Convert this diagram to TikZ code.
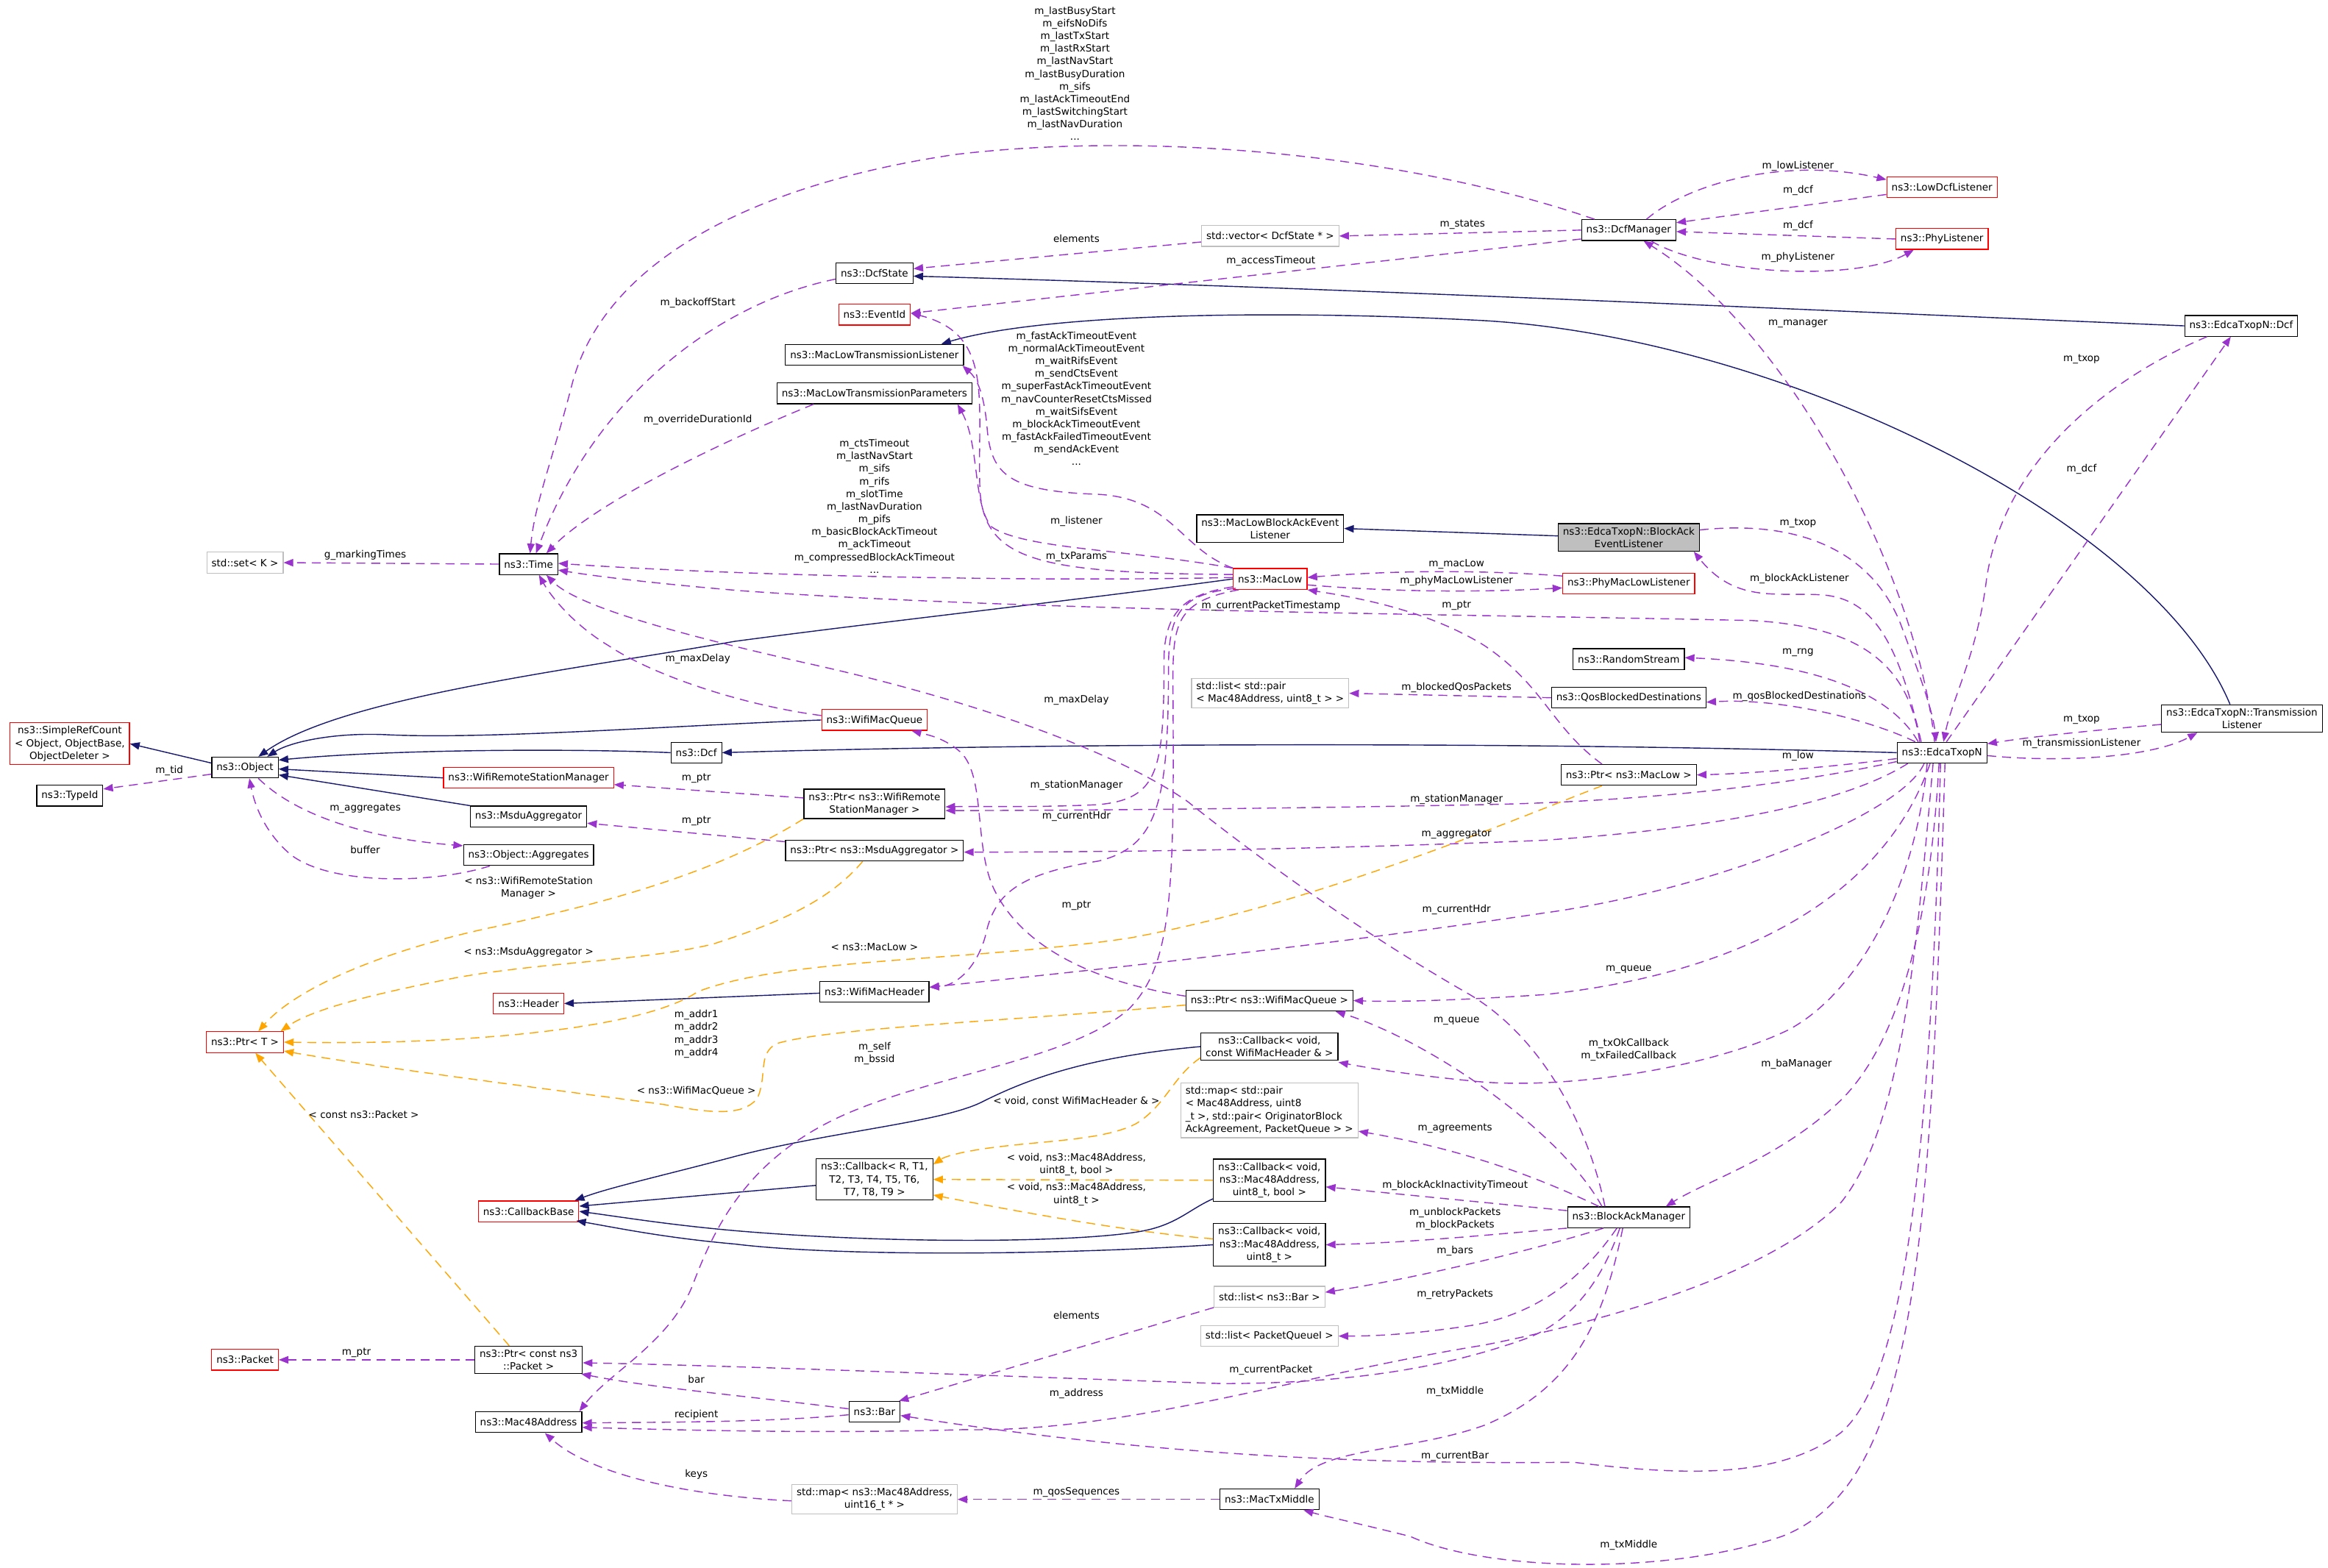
\documentclass[tikz,border=0pt]{standalone}
\usepackage{fontspec}
\setmainfont{DejaVu Sans}
\usetikzlibrary{arrows.meta}
\definecolor{inhblue}{HTML}{191970}
\definecolor{usepurple}{HTML}{9A32CD}
\definecolor{tplorange}{HTML}{FFA500}
\definecolor{boxred}{HTML}{FF0000}
\definecolor{boxgray}{HTML}{BFBFBF}
\newcommand{\dfont}{\fontsize{6.7}{8.5}\selectfont}
\tikzset{
  classbox/.style={draw=black,fill=white,line width=0.6pt,inner xsep=3.2pt,
                   inner ysep=2.4pt,minimum height=14pt,align=center,font=\dfont},
  redbox/.style={classbox,draw=boxred},
  graybox/.style={classbox,draw=boxgray},
  rootbox/.style={classbox,fill=boxgray},
  elabel/.style={inner sep=0pt,align=center,font=\dfont},
  inherit/.style={draw=inhblue,line width=0.7pt,
                  -{Triangle[length=6.5pt,width=5pt]}},
  usage/.style={draw=usepurple,line width=0.7pt,dash pattern=on 6pt off 4pt,
                -{Triangle[length=6.5pt,width=5pt]}},
  templ/.style={draw=tplorange,line width=0.7pt,dash pattern=on 6pt off 4pt,
                -{Triangle[length=6.5pt,width=5pt]}}
}

\begin{document}
\begin{tikzpicture}[x=1pt,y=-1pt]
  \path[fill=white,use as bounding box] (0,0) rectangle (1568,1056);

  % classes
  \node[classbox] (dcfmgr) at (1097,155) {ns3::DcfManager};
  \node[redbox] (lowlis) at (1308,126) {ns3::LowDcfListener};
  \node[redbox] (phylis) at (1308,161) {ns3::PhyListener};
  \node[graybox] (vecstate) at (855.5,159) {std::vector< DcfState * >};
  \node[classbox] (dcfstate) at (589,184) {ns3::DcfState};
  \node[redbox] (eventid) at (589,212) {ns3::EventId};
  \node[classbox] (txlis) at (589,239) {ns3::MacLowTransmissionListener};
  \node[classbox] (txpar) at (589,265) {ns3::MacLowTransmissionParameters};
  \node[classbox] (baevlis) at (855.5,356) {ns3::MacLowBlockAckEvent\\Listener};
  \node[rootbox] (edbalis) at (1097,362) {ns3::EdcaTxopN::BlockAck\\EventListener};
  \node[redbox] (maclow) at (855.5,390) {ns3::MacLow};
  \node[redbox] (phymac) at (1097,393) {ns3::PhyMacLowListener};
  \node[classbox] (time) at (356,380) {ns3::Time};
  \node[graybox] (setk) at (165,379) {std::set< K >};
  \node[classbox] (rng) at (1097,444) {ns3::RandomStream};
  \node[graybox,align=left] (blkpair) at (855.5,467) {std::list< std::pair\\< Mac48Address, uint8\_t > >};
  \node[classbox] (qosblk) at (1097,470) {ns3::QosBlockedDestinations};
  \node[classbox] (edcadcf) at (1509.5,219.5) {ns3::EdcaTxopN::Dcf};
  \node[classbox] (edtxlis) at (1510,484) {ns3::EdcaTxopN::Transmission\\Listener};
  \node[classbox] (edca) at (1308,507) {ns3::EdcaTxopN};
  \node[classbox] (ptrlow) at (1097,522) {ns3::Ptr< ns3::MacLow >};
  \node[redbox] (refcnt) at (47,501) {ns3::SimpleRefCount\\< Object, ObjectBase,\\ObjectDeleter >};
  \node[classbox] (object) at (165,517) {ns3::Object};
  \node[classbox] (typeid) at (47,536) {ns3::TypeId};
  \node[redbox] (wmq) at (589,485) {ns3::WifiMacQueue};
  \node[classbox] (dcf) at (469,507) {ns3::Dcf};
  \node[redbox] (wrsm) at (356,524) {ns3::WifiRemoteStationManager};
  \node[classbox] (ptrwrsm) at (589,541.5) {ns3::Ptr< ns3::WifiRemote\\StationManager >};
  \node[classbox] (msdu) at (356,550) {ns3::MsduAggregator};
  \node[classbox] (aggr) at (356,576) {ns3::Object::Aggregates};
  \node[classbox] (ptrmsdu) at (589,573) {ns3::Ptr< ns3::MsduAggregator >};
  \node[redbox] (header) at (356,676) {ns3::Header};
  \node[classbox] (wmh) at (589,668) {ns3::WifiMacHeader};
  \node[redbox] (ptrt) at (165,702) {ns3::Ptr< T >};
  \node[classbox] (ptrwmq) at (855,674) {ns3::Ptr< ns3::WifiMacQueue >};
  \node[classbox] (cbhdr) at (855,705) {ns3::Callback< void,\\const WifiMacHeader \& >};
  \node[graybox,align=left] (agrmap) at (855,748) {std::map< std::pair\\< Mac48Address, uint8\\\_t >, std::pair< OriginatorBlock\\AckAgreement, PacketQueue > >};
  \node[classbox] (cbgen) at (589,794.5) {ns3::Callback< R, T1,\\T2, T3, T4, T5, T6,\\T7, T8, T9 >};
  \node[classbox] (cbbool) at (855,795) {ns3::Callback< void,\\ns3::Mac48Address,\\uint8\_t, bool >};
  \node[redbox] (cbbase) at (356,816) {ns3::CallbackBase};
  \node[classbox] (cbtid) at (855,838.5) {ns3::Callback< void,\\ns3::Mac48Address,\\uint8\_t >};
  \node[classbox] (bam) at (1097,820) {ns3::BlockAckManager};
  \node[graybox] (barlist) at (855,873.5) {std::list< ns3::Bar >};
  \node[graybox] (pqlist) at (855,900) {std::list< PacketQueueI >};
  \node[redbox] (packet) at (165,916) {ns3::Packet};
  \node[classbox] (ptrpkt) at (356,916) {ns3::Ptr< const ns3\\::Packet >};
  \node[classbox] (bar) at (589,951) {ns3::Bar};
  \node[classbox] (mac48) at (356,958) {ns3::Mac48Address};
  \node[graybox] (seqmap) at (589,1010) {std::map< ns3::Mac48Address,\\uint16\_t * >};
  \node[classbox] (txmid) at (855,1010) {ns3::MacTxMiddle};

  % inheritance
  \draw[inherit] ([yshift=3pt]object.west) -- (refcnt.east);
  \draw[inherit] (dcf.west) .. controls (380,504) and (260,505) .. ([yshift=5pt]object.east);
  \draw[inherit] (wmq.west) .. controls (450,489) and (330,498) .. (262,495) .. controls (225,493) and (195,500) .. ([xshift=15pt]object.north);
  \draw[inherit] (maclow.west) .. controls (720,405) and (600,418) .. (495,432) .. controls (380,452) and (230,470) .. ([xshift=9pt]object.north);
  \draw[inherit] (wrsm.west) -- ([yshift=-1pt]object.east);
  \draw[inherit] (msdu.north west) -- ([yshift=-5pt]object.east);
  \draw[inherit] (edca.west) .. controls (1000,499) and (700,501) .. (dcf.east);
  \draw[inherit] ([yshift=-1pt]wmh.west) -- (header.east);
  \draw[inherit] ([yshift=-4pt]cbgen.west) -- ([yshift=3.5pt]cbbase.east);
  \draw[inherit] (cbhdr.west) .. controls (730,712) and (690,728) .. (662,742) .. controls (635,756) and (560,762) .. (495,779) .. controls (450,791) and (410,800) .. ([xshift=-3pt]cbbase.north east);
  \draw[inherit] ([yshift=2pt]cbbool.south west) .. controls (800,815) and (792,826) .. (765,830) .. controls (720,837) and (600,838) .. (495,829) .. controls (450,825) and (420,820) .. (cbbase.east);
  \draw[inherit] (cbtid.west) .. controls (700,846) and (560,846) .. (495,838) .. controls (450,834) and (420,828) .. ([xshift=-2pt,yshift=1pt]cbbase.south east);
  \draw[inherit] (edcadcf.west) .. controls (1200,208) and (900,194) .. ([yshift=-2pt]dcfstate.east);
  \draw[inherit] ([xshift=-8pt]edtxlis.north) .. controls (1450,350) and (1200,228) .. (1000,216) .. controls (850,208) and (700,212) .. ([xshift=45pt]txlis.north);
  \draw[inherit] ([yshift=1pt]edbalis.west) -- (baevlis.east);

  % usage
  \draw[usage] (dcfmgr.west) -- (vecstate.east);
  \draw[usage] ([yshift=-4pt]vecstate.west) -- ([yshift=3pt]dcfstate.east);
  \draw[usage] ([yshift=-6pt]dcfmgr.west) -- ([yshift=1pt]eventid.east);
  \draw[usage] ([xshift=12pt]dcfmgr.north) .. controls (1135,125) and (1200,105) .. ([yshift=5pt]lowlis.west);
  \draw[usage] ([yshift=-5pt]lowlis.west) -- ([yshift=5pt]dcfmgr.east);
  \draw[usage] (phylis.west) -- ([yshift=-1pt]dcfmgr.east);
  \draw[usage] ([xshift=15pt]dcfmgr.south) .. controls (1150,185) and (1250,190) .. ([xshift=-19pt]phylis.south);
  \draw[usage] ([xshift=-23pt]dcfmgr.north) .. controls (950,105) and (780,88) .. (644,104) .. controls (500,125) and (405,180) .. (385,260) .. controls (372,310) and (360,340) .. ([xshift=1pt]time.north);
  \draw[usage] ([yshift=-4pt]dcfstate.west) .. controls (480,205) and (400,270) .. ([xshift=5pt]time.north);
  \draw[usage] ([xshift=-41pt]txpar.south) .. controls (480,300) and (400,340) .. ([xshift=12pt]time.north);
  \draw[usage] (time.west) -- (setk.east);
  \draw[usage] ([yshift=1pt]maclow.west) .. controls (700,392) and (500,388) .. ([yshift=0.5pt]time.east);
  \draw[usage] ([yshift=3pt]maclow.west) .. controls (700,386) and (663,378) .. (660,330) .. controls (658,270) and (670,225) .. ([yshift=1pt]eventid.east);
  \draw[usage] ([xshift=-25pt]maclow.north) .. controls (795,370) and (790,336) .. (740,333) .. controls (680,331) and (668,320) .. (665,290) .. controls (663,265) and (658,255) .. ([xshift=-1pt]txlis.south east);
  \draw[usage] (maclow.north west) .. controls (760,370) and (690,370) .. (668,355) .. controls (655,340) and (660,300) .. ([xshift=-10pt]txpar.south east);
  \draw[usage] ([yshift=-4pt]maclow.east) .. controls (940,399) and (1000,399) .. ([yshift=-3pt]phymac.west);
  \draw[usage] ([yshift=5pt]phymac.west) .. controls (1000,384) and (940,384) .. ([yshift=1pt]maclow.east);
  \draw[usage] ([xshift=-15pt]edca.north) .. controls (1285,445) and (1250,422) .. (1180,418) .. controls (1000,414) and (700,412) .. (500,398) .. controls (440,393) and (400,388) .. ([yshift=-4pt]time.east);
  \draw[usage] ([xshift=-18pt]ptrlow.north) .. controls (1045,490) and (1040,462) .. (1000,435) .. controls (960,410) and (910,402) .. (maclow.south east);
  \draw[usage] ([xshift=-14pt]edca.north) .. controls (1280,440) and (1265,405) .. (1230,401) .. controls (1200,398) and (1170,408) .. ([xshift=-4pt]edbalis.south east);
  \draw[usage] ([yshift=5pt]edbalis.east) .. controls (1210,350) and (1260,370) .. (1280,420) .. controls (1295,460) and (1302,480) .. ([xshift=-4pt]edca.north);
  \draw[usage] ([xshift=-16pt]edca.north) .. controls (1275,470) and (1230,447) .. ([yshift=1pt]rng.east);
  \draw[usage] ([xshift=-18pt]edca.north) .. controls (1260,485) and (1200,470) .. ([yshift=-3pt]qosblk.east);
  \draw[usage] (qosblk.west) -- (blkpair.east);
  \draw[usage] ([yshift=-4pt]edca.west) .. controls (1230,517) and (1180,521) .. (ptrlow.east);
  \draw[usage] ([xshift=3pt]edca.north) -- ([xshift=-7pt]edcadcf.south);
  \draw[usage] ([xshift=-23pt]edcadcf.south) .. controls (1420,255) and (1350,310) .. (1338,390) .. controls (1332,440) and (1315,470) .. ([xshift=1pt]edca.north);
  \draw[usage] ([yshift=-2pt]edca.east) .. controls (1390,514) and (1450,510) .. ([xshift=-30pt]edtxlis.south);
  \draw[usage] ([yshift=-4pt]edtxlis.west) .. controls (1410,492) and (1370,496) .. ([yshift=6pt]edca.east);
  \draw[usage] ([xshift=-5pt]edca.north) .. controls (1290,380) and (1200,220) .. ([xshift=10pt]dcfmgr.south);
  \draw[usage] ([yshift=-6pt]edca.west) .. controls (1200,530) and (1100,540) .. (1000,542) .. controls (850,545) and (700,546) .. ([yshift=-4.5pt]ptrwrsm.east);
  \draw[usage] ([yshift=2pt]maclow.south west) .. controls (800,400) and (784,410) .. (784,445) .. controls (784,520) and (780,538) .. (740,542) .. controls (700,544) and (660,543) .. ([yshift=-2pt]ptrwrsm.east);
  \draw[usage] ([xshift=2pt,yshift=1pt]maclow.south west) .. controls (798,400) and (787,410) .. (787,450) .. controls (787,540) and (780,570) .. (740,580) .. controls (690,588) and (672,600) .. (665,625) .. controls (660,650) and (645,664) .. ([yshift=3pt]wmh.east);
  \draw[usage] ([xshift=4pt]maclow.south west) .. controls (792,405) and (790,420) .. (790,460) .. controls (791,600) and (790,650) .. (760,680) .. controls (720,715) and (620,725) .. (560,755) .. controls (500,785) and (480,830) .. (466,867) .. controls (450,905) and (410,925) .. ([xshift=-2pt]mac48.north east);
  \draw[usage] ([yshift=3pt]wmq.west) .. controls (500,475) and (440,455) .. (410,435) .. controls (385,420) and (370,400) .. ([xshift=7pt]time.south);
  \draw[usage] ([xshift=-16pt]bam.north) .. controls (1070,760) and (1040,700) .. (990,670) .. controls (920,630) and (850,580) .. (800,540) .. controls (750,505) and (650,470) .. (540,446) .. controls (470,430) and (390,410) .. ([xshift=12pt]time.south);
  \draw[usage] ([yshift=4pt]ptrwrsm.west) -- ([yshift=-4.5pt]wrsm.east);
  \draw[usage] ([yshift=6pt]ptrmsdu.west) -- ([yshift=-4.5pt]msdu.east);
  \draw[usage] ([yshift=3pt]ptrwmq.west) .. controls (740,662) and (690,640) .. (670,600) .. controls (655,570) and (665,520) .. (645,505) .. controls (635,497) and (625,495) .. ([xshift=25pt]wmq.south);
  \draw[usage] ([xshift=-23pt]edca.south) .. controls (1260,530) and (1200,555) .. (1040,566) .. controls (900,572) and (750,574) .. ([yshift=-1pt]ptrmsdu.east);
  \draw[usage] ([xshift=-12pt]edca.south) .. controls (1280,550) and (1150,600) .. (1040,615) .. controls (900,636) and (750,652) .. ([yshift=3pt]wmh.east);
  \draw[usage] ([xshift=-8pt]edca.south) .. controls (1270,600) and (1180,655) .. (1040,670) .. controls (980,674) and (940,675) .. (ptrwmq.east);
  \draw[usage] ([xshift=-18pt]bam.north) .. controls (1050,760) and (960,700) .. ([xshift=-12pt]ptrwmq.south east);
  \draw[usage] ([xshift=-10pt]edca.south) .. controls (1290,600) and (1250,670) .. (1204,694) .. controls (1150,720) and (1050,735) .. (990,728) .. controls (950,724) and (925,720) .. ([yshift=-1pt]cbhdr.south east);
  \draw[usage] ([xshift=-2pt]edca.south) .. controls (1300,620) and (1280,700) .. (1241,740) .. controls (1200,780) and (1150,795) .. ([xshift=25pt]bam.north);
  \draw[usage] ([xshift=-20pt]bam.north) .. controls (1040,795) and (990,775) .. ([yshift=-14pt]agrmap.east);
  \draw[usage] ([yshift=4.5pt]bam.west) -- ([yshift=-4.5pt]cbbool.east);
  \draw[usage] (bam.south west) .. controls (1000,832) and (950,837) .. (cbtid.east);
  \draw[usage] ([xshift=-17pt]bam.south) .. controls (1040,840) and (960,860) .. ([yshift=3pt]barlist.east);
  \draw[usage] ([xshift=-8pt]bam.south) .. controls (1070,855) and (1040,885) .. (990,893) .. controls (950,899) and (925,900) .. (pqlist.east);
  \draw[usage] (barlist.south west) -- ([xshift=-1pt]bar.north east);
  \draw[usage] ([yshift=2pt]bar.west) .. controls (500,940) and (440,935) .. ([xshift=-1pt]ptrpkt.south east);
  \draw[usage] ([yshift=-2pt]bar.west) .. controls (520,958) and (450,958) .. ([yshift=-0.5pt]mac48.east);
  \draw[usage] ([xshift=-6pt]bam.south) .. controls (1080,860) and (1060,890) .. (1027,902) .. controls (990,915) and (930,932) .. (823,932) .. controls (700,928) and (500,920) .. ([yshift=-2pt]ptrpkt.east);
  \draw[usage] ([xshift=-6pt]edca.south) .. controls (1290,650) and (1280,760) .. (1240,810) .. controls (1190,860) and (1080,890) .. (1000,906) .. controls (880,925) and (760,965) .. (650,963) .. controls (550,966) and (450,963) .. ([yshift=-3.5pt]mac48.east);
  \draw[usage] ([xshift=-4pt]bam.south) .. controls (1080,890) and (1060,935) .. (1000,960) .. controls (950,978) and (890,975) .. ([xshift=17pt]txmid.north);
  \draw[usage] ([xshift=-1pt]edca.south) .. controls (1300,800) and (1280,930) .. (1240,965) .. controls (1200,995) and (1140,995) .. (1060,985) .. controls (950,986) and (800,984) .. ([yshift=-2.5pt]bar.east);
  \draw[usage] ([xshift=2pt]edca.south) .. controls (1300,850) and (1290,1000) .. (1200,1035) .. controls (1120,1062) and (1000,1058) .. (950,1035) .. controls (910,1025) and (895,1022) .. ([xshift=23pt]txmid.south);
  \draw[usage] (txmid.west) -- (seqmap.east);
  \draw[usage] ([yshift=-1pt]seqmap.west) .. controls (470,1008) and (400,995) .. ([xshift=11pt]mac48.south);
  \draw[usage] (ptrpkt.west) -- (packet.east);
  \draw[usage] ([yshift=-4.5pt]object.west) -- ([yshift=4.5pt]typeid.east);
  \draw[usage] ([xshift=9pt]object.south) .. controls (200,550) and (250,565) .. ([yshift=-1pt]aggr.north west);
  \draw[usage] ([xshift=-26pt]aggr.south) .. controls (290,596) and (220,596) .. (195,575) .. controls (180,562) and (172,545) .. ([xshift=3pt]object.south);

  % templates
  \draw[templ] ([xshift=-48pt]ptrwrsm.south) .. controls (480,590) and (400,610) .. (330,625) .. controls (260,640) and (200,665) .. ([xshift=9pt]ptrt.north);
  \draw[templ] ([xshift=-8pt]ptrmsdu.south) .. controls (560,605) and (530,620) .. (480,636) .. controls (430,648) and (360,648) .. (300,660) .. controls (250,670) and (210,680) .. ([xshift=24pt]ptrt.north);
  \draw[templ] ([xshift=-18pt]ptrlow.south) .. controls (1000,560) and (880,610) .. (760,632) .. controls (650,648) and (530,645) .. (470,668) .. controls (430,695) and (300,704) .. (ptrt.east);
  \draw[templ] ([yshift=-3pt]ptrwmq.west) .. controls (680,688) and (560,692) .. (523,703) .. controls (510,710) and (517,725) .. (510,740) .. controls (500,752) and (480,750) .. (447,744) .. controls (380,735) and (260,720) .. ([yshift=-6pt]ptrt.east);
  \draw[templ] ([xshift=-13pt]ptrpkt.north) -- ([xshift=7pt]ptrt.south);
  \draw[templ] ([yshift=2pt]cbhdr.south west) .. controls (790,725) and (785,745) .. (765,757) .. controls (740,770) and (690,768) .. (650,776) .. controls (640,778) and (635,780) .. ([yshift=-4pt]cbgen.north east);
  \draw[templ] (cbbool.west) -- (cbgen.east);
  \draw[templ] ([yshift=4pt]cbtid.west) .. controls (760,830) and (680,815) .. ([yshift=-10.5pt]cbgen.east);

  % connector labels
  \node[elabel] (lstates) at (985,151.5) {m\_states};
  \node[elabel] (lelem) at (725,160.5) {elements};
  \node[elabel] (lacc) at (856,176) {m\_accessTimeout};
  \node[elabel] (lmgrtime) at (724,49.5) {m\_lastBusyStart\\m\_eifsNoDifs\\m\_lastTxStart\\m\_lastRxStart\\m\_lastNavStart\\m\_lastBusyDuration\\m\_sifs\\m\_lastAckTimeoutEnd\\m\_lastSwitchingStart\\m\_lastNavDuration\\...};
  \node[elabel] (llowlis) at (1211,112) {m\_lowListener};
  \node[elabel] (ldcfa) at (1211,128.5) {m\_dcf};
  \node[elabel] (ldcfb) at (1211,152) {m\_dcf};
  \node[elabel] (lphylis) at (1211,173.5) {m\_phyListener};
  \node[elabel] (lmanager) at (1211,218) {m\_manager};
  \node[elabel] (lbackoff) at (470,204) {m\_backoffStart};
  \node[elabel] (loverride) at (470,283) {m\_overrideDurationId};
  \node[elabel] (lmarking) at (246,374) {g\_markingTimes};
  \node[elabel] (llowtime) at (589,341) {m\_ctsTimeout\\m\_lastNavStart\\m\_sifs\\m\_rifs\\m\_slotTime\\m\_lastNavDuration\\m\_pifs\\m\_basicBlockAckTimeout\\m\_ackTimeout\\m\_compressedBlockAckTimeout\\...};
  \node[elabel] (llowevent) at (725,268.5) {m\_fastAckTimeoutEvent\\m\_normalAckTimeoutEvent\\m\_waitRifsEvent\\m\_sendCtsEvent\\m\_superFastAckTimeoutEvent\\m\_navCounterResetCtsMissed\\m\_waitSifsEvent\\m\_blockAckTimeoutEvent\\m\_fastAckFailedTimeoutEvent\\m\_sendAckEvent\\...};
  \node[elabel] (llistener) at (725,351) {m\_listener};
  \node[elabel] (ltxparams) at (725,375) {m\_txParams};
  \node[elabel] (lmaclow) at (981,380) {m\_macLow};
  \node[elabel] (lphymac) at (981,391.5) {m\_phyMacLowListener};
  \node[elabel] (lstamp) at (856,408) {m\_currentPacketTimestamp};
  \node[elabel] (lptrlow) at (981,408) {m\_ptr};
  \node[elabel] (ltxopa) at (1211,352.5) {m\_txop};
  \node[elabel] (lbalis) at (1212,390) {m\_blockAckListener};
  \node[elabel] (lrng) at (1211,439.5) {m\_rng};
  \node[elabel] (lqosdest) at (1212,469) {m\_qosBlockedDestinations};
  \node[elabel] (lqospkt) at (981,463) {m\_blockedQosPackets};
  \node[elabel] (llow) at (1211,509.5) {m\_low};
  \node[elabel] (ltxopb) at (1402,242) {m\_txop};
  \node[elabel] (ldcfc) at (1402,316) {m\_dcf};
  \node[elabel] (ltxopc) at (1402,484.5) {m\_txop};
  \node[elabel] (ltxlis) at (1402,501) {m\_transmissionListener};
  \node[elabel] (ldelaya) at (470,444) {m\_maxDelay};
  \node[elabel] (ldelayb) at (725,471.5) {m\_maxDelay};
  \node[elabel] (lstama) at (725,529) {m\_stationManager};
  \node[elabel] (lhdra) at (725,550) {m\_currentHdr};
  \node[elabel] (lstamb) at (981,538.5) {m\_stationManager};
  \node[elabel] (laggr) at (981,562) {m\_aggregator};
  \node[elabel] (lptrwrsm) at (469,524.5) {m\_ptr};
  \node[elabel] (lptrmsdu) at (469,553) {m\_ptr};
  \node[elabel] (laggrs) at (246,544.5) {m\_aggregates};
  \node[elabel] (lbuffer) at (246,572.5) {buffer};
  \node[elabel] (ltid) at (114,519) {m\_tid};
  \node[elabel] (lptrwmq) at (725,610) {m\_ptr};
  \node[elabel] (lhdrb) at (981,613) {m\_currentHdr};
  \node[elabel] (lqueuea) at (1097,653) {m\_queue};
  \node[elabel] (lqueueb) at (981,688) {m\_queue};
  \node[elabel] (ltmaclow) at (589,638) {< ns3::MacLow >};
  \node[elabel] (ltwrsm) at (356,598) {< ns3::WifiRemoteStation\\Manager >};
  \node[elabel] (ltmsdu) at (356,641.5) {< ns3::MsduAggregator >};
  \node[elabel] (laddr) at (469,696.5) {m\_addr1\\m\_addr2\\m\_addr3\\m\_addr4};
  \node[elabel] (lself) at (589,709.5) {m\_self\\m\_bssid};
  \node[elabel] (ltwmq) at (469,735) {< ns3::WifiMacQueue >};
  \node[elabel] (ltpkt) at (245,751) {< const ns3::Packet >};
  \node[elabel] (ltxcb) at (1097,707) {m\_txOkCallback\\m\_txFailedCallback};
  \node[elabel] (lbaman) at (1210,717) {m\_baManager};
  \node[elabel] (ltcbhdr) at (725,741.5) {< void, const WifiMacHeader \& >};
  \node[elabel] (lagree) at (980,760) {m\_agreements};
  \node[elabel] (ltcbbool) at (725,784.5) {< void, ns3::Mac48Address,\\uint8\_t, bool >};
  \node[elabel] (linact) at (980,798.5) {m\_blockAckInactivityTimeout};
  \node[elabel] (ltcbtid) at (725,804.5) {< void, ns3::Mac48Address,\\uint8\_t >};
  \node[elabel] (lblock) at (980,821) {m\_unblockPackets\\m\_blockPackets};
  \node[elabel] (lbars) at (980,842.5) {m\_bars};
  \node[elabel] (lretry) at (980,872) {m\_retryPackets};
  \node[elabel] (lelemb) at (725,886) {elements};
  \node[elabel] (lcurpkt) at (856,923) {m\_currentPacket};
  \node[elabel] (lbar) at (469,929) {bar};
  \node[elabel] (lmida) at (980,937.5) {m\_txMiddle};
  \node[elabel] (laddress) at (725,939) {m\_address};
  \node[elabel] (lrecip) at (469,953) {recipient};
  \node[elabel] (lcurbar) at (980,981) {m\_currentBar};
  \node[elabel] (lmidb) at (1097,1041) {m\_txMiddle};
  \node[elabel] (lkeys) at (469,993) {keys};
  \node[elabel] (lqosseq) at (725,1005) {m\_qosSequences};
  \node[elabel] (lptrpkt) at (240,911) {m\_ptr};
\end{tikzpicture}
\end{document}
